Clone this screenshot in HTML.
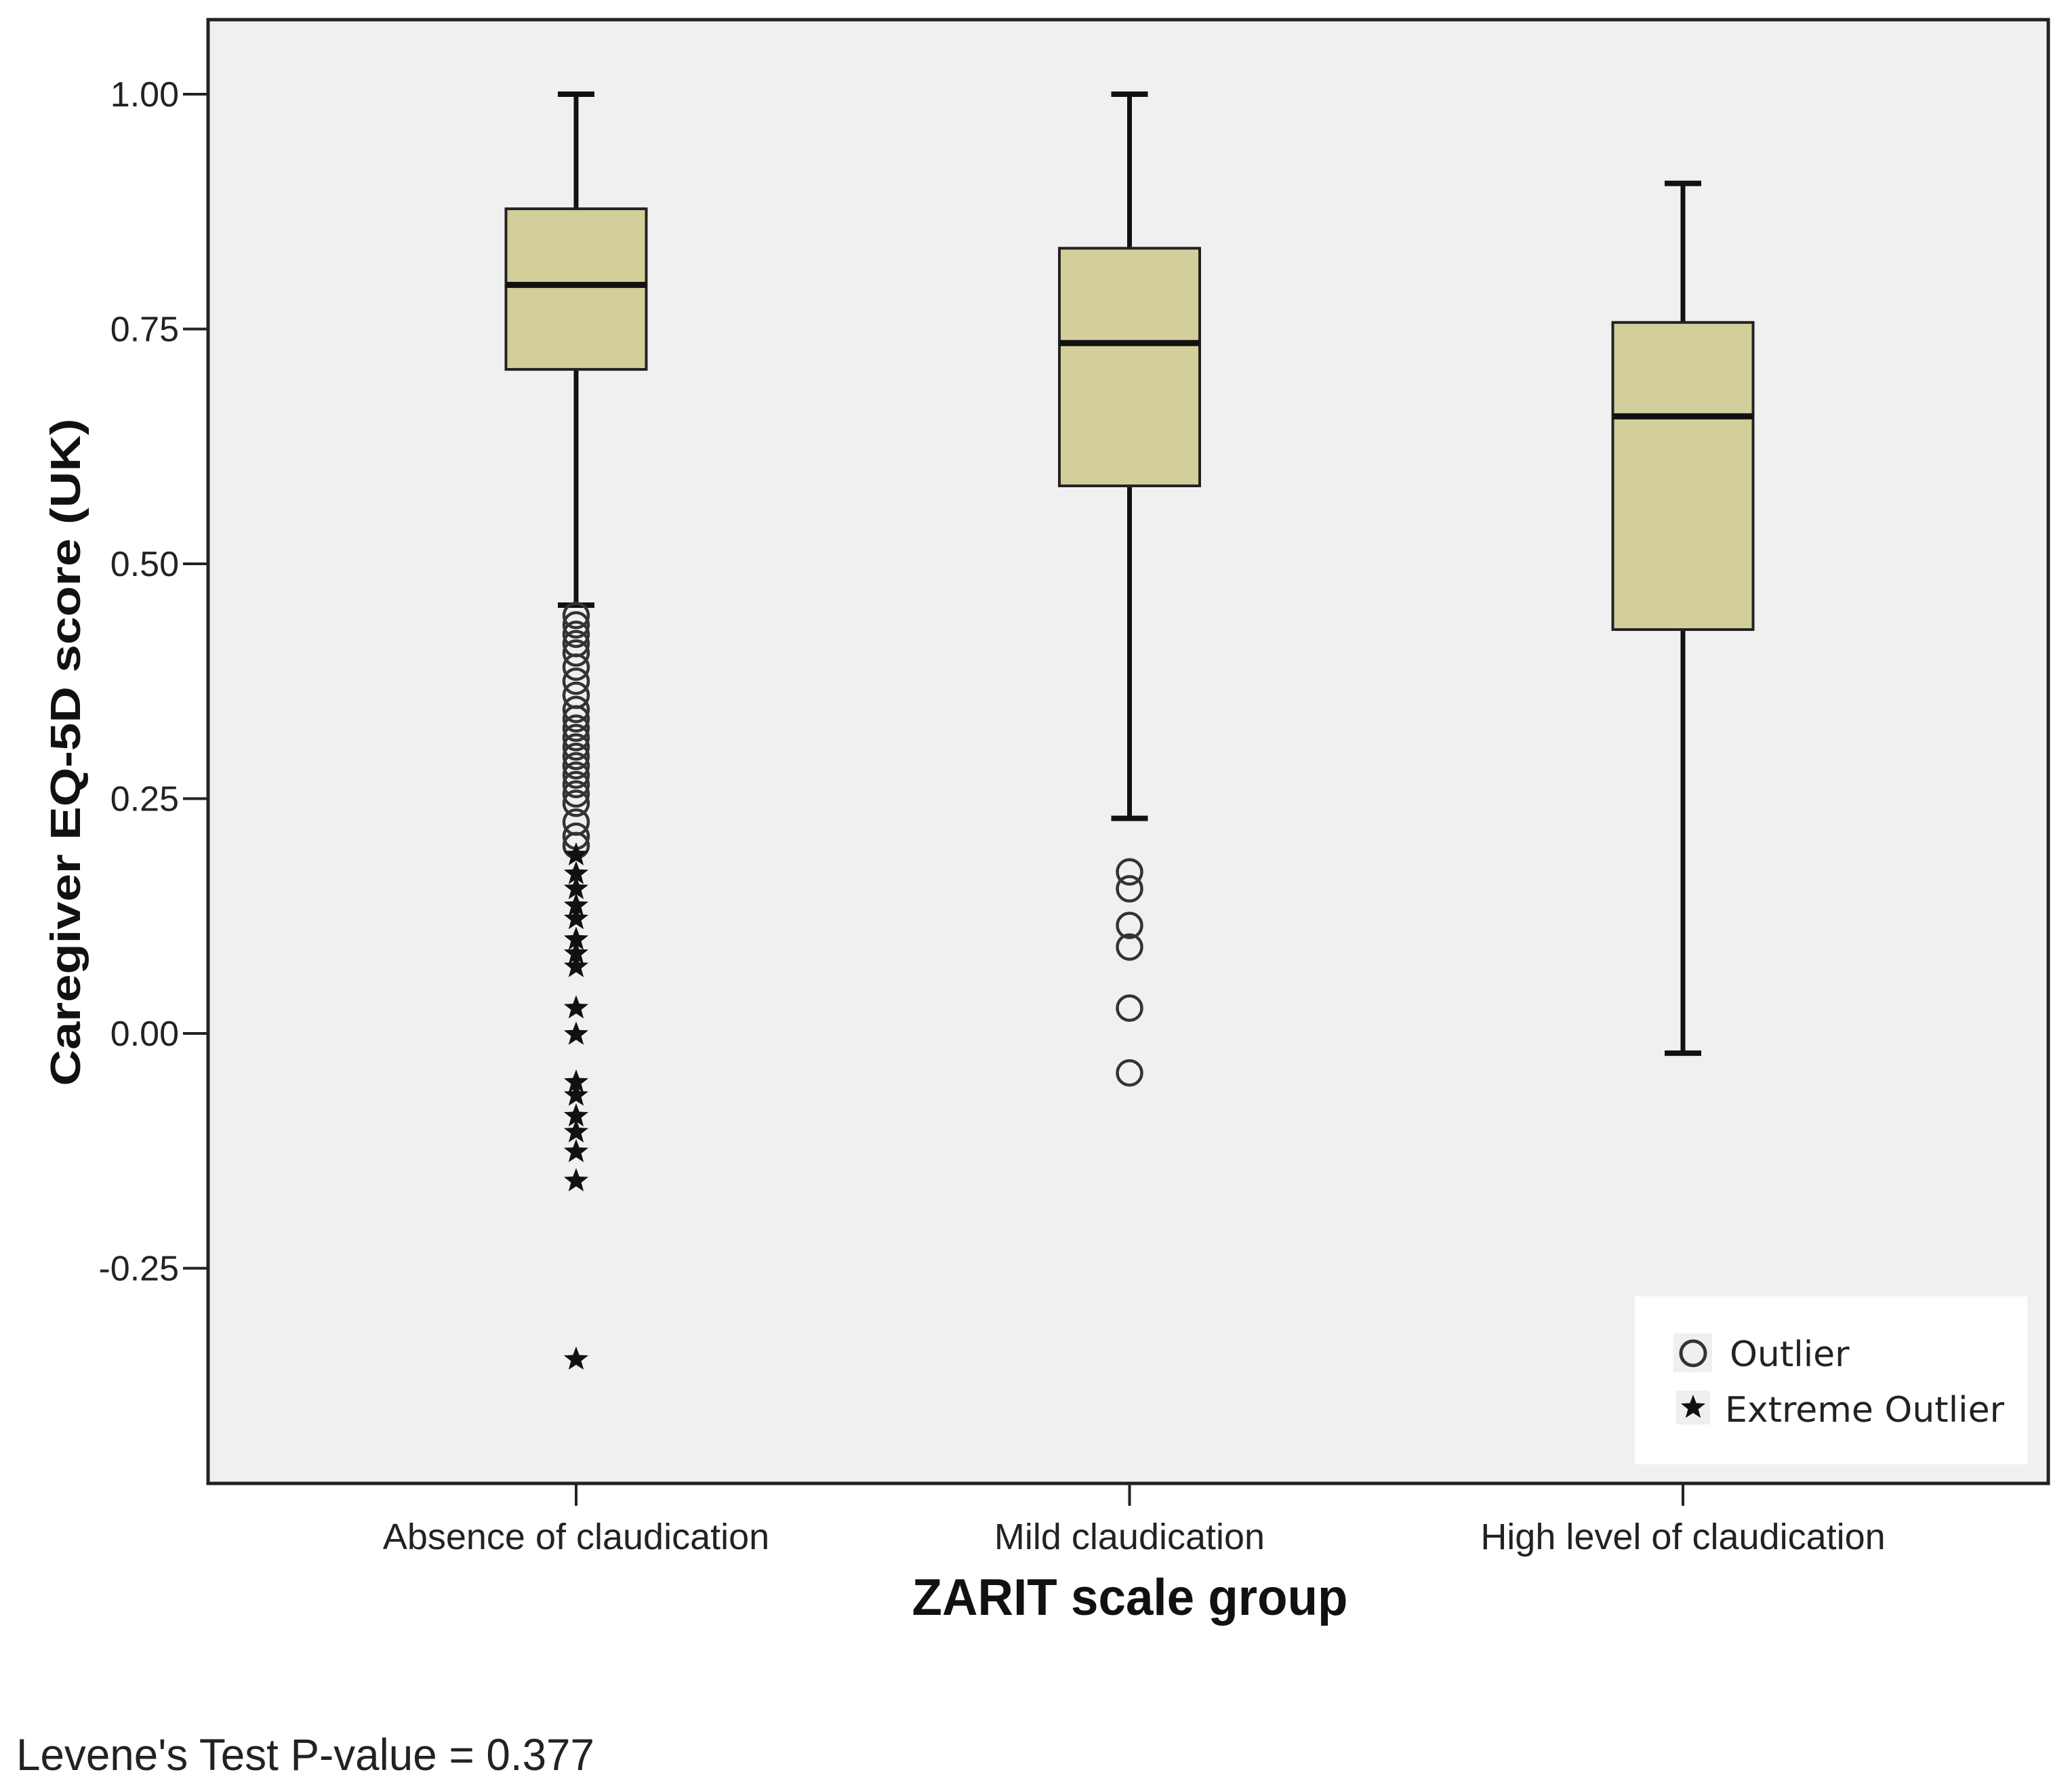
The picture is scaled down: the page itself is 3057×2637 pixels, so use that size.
<!DOCTYPE html>
<html><head><meta charset="utf-8"><style>
html,body{margin:0;padding:0;background:#fff}
svg{display:block}
text{font-family:"Liberation Sans",sans-serif;fill:#222}
</style></head><body>
<svg id="chart" width="3057" height="2637" viewBox="0 0 3057 2637" xmlns="http://www.w3.org/2000/svg">
<rect x="307" y="29" width="2715" height="2160" fill="#f0f0f0" stroke="#222" stroke-width="5"/>
<g id="axes"></g>
<g id="marks"></g>
<text transform="translate(118,1110) rotate(-90)" text-anchor="middle" font-size="62" font-weight="bold" textLength="985" lengthAdjust="spacingAndGlyphs" style="fill:#111">Caregiver EQ-5D score (UK)</text>
<text x="1667" y="2383" text-anchor="middle" font-size="76" font-weight="bold" textLength="643" lengthAdjust="spacingAndGlyphs" style="fill:#111">ZARIT scale group</text>
<text x="24" y="2612" font-size="66" textLength="853" lengthAdjust="spacingAndGlyphs">Levene's Test P-value = 0.377</text>
<g>
<rect x="2412" y="1913" width="579" height="248" fill="#fff"/>
<g>
<rect x="2469" y="1968" width="57" height="57" fill="#efefef"/>
<circle cx="2498" cy="1997" r="18" fill="none" stroke="#333" stroke-width="5"/>
<text x="2552" y="2016" font-size="52" style="font-family:'DejaVu Sans',sans-serif">Outlier</text>
</g>
<g>
<rect x="2473" y="2052" width="50" height="50" fill="#efefef"/>
<polygon id="legendStar" fill="#111"/>
<text x="2545" y="2098" font-size="52" style="font-family:'DejaVu Sans',sans-serif">Extreme Outlier</text>
</g>
</g>
</svg>
<script>
const categories = ["Absence of claudication", "Mild claudication", "High level of claudication"];
const whiskerHigh = [1.00, 1.00, 0.905];
const q3Values = [0.878, 0.836, 0.757];
const medians = [0.797, 0.735, 0.657];
const q1Values = [0.707, 0.583, 0.43];
const whiskerLow = [0.456, 0.229, -0.021];
const outliersG1 = [0.445,0.435,0.425,0.415,0.405,0.39,0.375,0.36,0.345,0.335,0.325,0.315,0.305,0.295,0.285,0.275,0.265,0.255,0.245,0.225,0.21,0.20];
const extremeG1 = [0.19,0.17,0.154,0.136,0.122,0.10,0.085,0.071,0.027,-0.001,-0.052,-0.066,-0.088,-0.105,-0.126,-0.157,-0.347];
const outliersG2 = [0.172,0.154,0.115,0.092,0.027,-0.042];
const outliersG3 = [];
const extremeG2 = [];
const extremeG3 = [];
const yTicks = [1.00, 0.75, 0.50, 0.25, 0.00, -0.25];
const yTickLabels = ["1.00", "0.75", "0.50", "0.25", "0.00", "-0.25"];

const NS = "http://www.w3.org/2000/svg";
function y(v){ return 139 + (1 - v) * 1386; }
function x(i){ return 850 + i * 816.5; }
const BW = 207;
function mk(parent, tag, attrs){
  const e = document.createElementNS(NS, tag);
  for (const k in attrs) e.setAttribute(k, attrs[k]);
  parent.appendChild(e); return e;
}
function starPts(cx, cy, R, r){
  const p = [];
  for (let k = 0; k < 10; k++){
    const a = -Math.PI / 2 + k * Math.PI / 5;
    const rr = k % 2 ? r : R;
    p.push((cx + rr * Math.cos(a)).toFixed(1) + ',' + (cy + rr * Math.sin(a)).toFixed(1));
  }
  return p.join(' ');
}
document.getElementById('legendStar').setAttribute('points', starPts(2498, 2077, 19, 8));
const axes = document.getElementById('axes');
const marks = document.getElementById('marks');
yTicks.forEach((t, i) => {
  const ln = mk(axes, 'line', {x1: 270, x2: 307, y1: y(t), y2: y(t), stroke: '#222', 'stroke-width': 4});
  
  
  const tx = mk(axes, 'text', {x: 264, y: y(t) + 18, 'text-anchor': 'end', 'font-size': 52});
  tx.textContent = yTickLabels[i];
  
  
});
categories.forEach((c, i) => {
  const ln = mk(axes, 'line', {x1: x(i), x2: x(i), y1: 2189, y2: 2222, stroke: '#222', 'stroke-width': 4});
  
  
  const tx = mk(axes, 'text', {x: x(i), y: 2286, 'text-anchor': 'middle', 'font-size': 54});
  tx.textContent = c;
  
  
});
const outs = [outliersG1, outliersG2, outliersG3];
const exts = [extremeG1, extremeG2, extremeG3];
categories.forEach((c, i) => {
  const g = mk(marks, 'g', {});
  
  
  const cx = x(i);
  const w = mk(g, 'line', {x1: cx, x2: cx, y1: y(whiskerHigh[i]), y2: y(whiskerLow[i]), stroke: '#111', 'stroke-width': 7});
  
  
  [whiskerHigh[i], whiskerLow[i]].forEach(v => {
    const cap = mk(g, 'line', {x1: cx - 27, x2: cx + 27, y1: y(v), y2: y(v), stroke: '#111', 'stroke-width': 8});
    
    
  });
  const box = mk(g, 'rect', {x: cx - BW / 2, y: y(q3Values[i]), width: BW, height: y(q1Values[i]) - y(q3Values[i]), fill: '#d3cf9b', stroke: '#222', 'stroke-width': 4});
  
  
  const md = mk(g, 'line', {x1: cx - BW / 2, x2: cx + BW / 2, y1: y(medians[i]), y2: y(medians[i]), stroke: '#111', 'stroke-width': 9});
  
  
  outs[i].forEach(v => {
    const o = mk(g, 'circle', {cx: cx, cy: y(v), r: 18, fill: 'none', stroke: '#333', 'stroke-width': 4.5});
    
    
  });
  exts[i].forEach(v => {
    const s = mk(g, 'polygon', {points: starPts(cx, y(v), 19, 8), fill: '#111'});
    
    
  });
});
</script>
</body></html>
